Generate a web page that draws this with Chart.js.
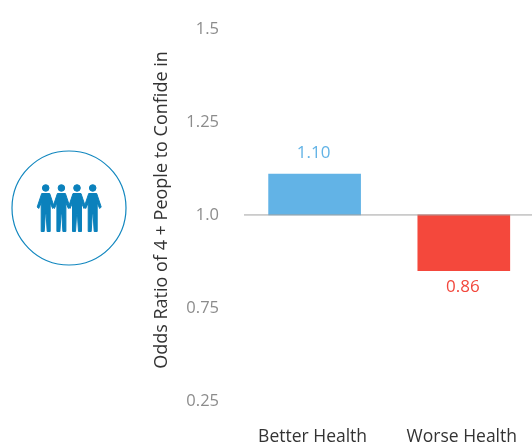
<!DOCTYPE html>
<html>
<head>
<meta charset="utf-8">
<script src="https://cdn.jsdelivr.net/npm/chart.js@4"></script>
<style>
html, body { margin: 0; padding: 0; background: #fff; overflow: hidden; }
#wrap { position: relative; width: 532px; height: 448px; overflow: hidden; }
#chart { position: absolute; left: 0; top: -2px; }
#icon { position: absolute; left: 0; top: 0; }
</style>
</head>
<body>
<div id="wrap">
<canvas id="chart" width="545" height="450"></canvas>
<svg id="icon" width="140" height="448" aria-hidden="true">
  <circle cx="69" cy="208" r="57" fill="none" stroke="#1287bf" stroke-width="1.2"/>
  <g fill="#0b81bc" stroke="#0b81bc" stroke-width="1" stroke-linejoin="round">
    <g id="p1" transform="translate(45.7 0)">
      <circle cx="0" cy="188" r="3.3"/>
      <path d="M-4,193.5 L4,193.5 L8.5,207 L7,208.5 L4.5,203 L4.5,212 L4.5,231.5 L1.5,231.5 L0.4,214 L-0.4,214 L-1.5,231.5 L-4.5,231.5 L-4.5,212 L-4.5,203 L-7,208.5 L-8.5,207 Z"/>
    </g>
    <use href="#p1" x="15.7"/>
    <use href="#p1" x="31.3"/>
    <use href="#p1" x="47"/>
  </g>
</svg>
</div>
<script>
// ===== Chart data =====
const categories = ['Better Health', 'Worse Health'];
const barValues = [1.11, 0.85];
const barLabels = ['1.10', '0.86'];
const barColors = ['#62b3e6', '#f4483c'];
const labelColors = ['#62b3e6', '#f2473c'];
// ticks are evenly spaced in the original, its lowest one is printed as 0.25
const tickValues = [0.5, 0.75, 1.0, 1.25, 1.5];
const tickLabels = ['0.25', '0.75', '1.0', '1.25', '1.5'];
const baseline = 1.0;
const yTitle = 'Odds Ratio of 4 + People to Confide in';

const fontFamily = "'Open Sans', sans-serif";

// baseline rule, value labels above/below the bars and the rotated axis title
const barExtras = {
    id: 'barExtras',
    afterDatasetsDraw(chart) {
        const ctx = chart.ctx;
        const y = chart.scales.y.getPixelForValue(baseline);
        ctx.save();
        ctx.strokeStyle = '#a3a3a3';
        ctx.lineWidth = 1;
        ctx.beginPath();
        ctx.moveTo(244, y);
        ctx.lineTo(chart.chartArea.right, y);
        ctx.stroke();

        ctx.font = '17px ' + fontFamily;
        ctx.textAlign = 'center';
        ctx.textBaseline = 'middle';
        chart.getDatasetMeta(0).data.forEach((bar, i) => {
            const up = barValues[i] >= baseline;
            ctx.fillStyle = labelColors[i];
            ctx.fillText(barLabels[i], bar.x - 1, bar.y + (up ? -21 : 16));
        });

        ctx.translate(162, 212);
        ctx.rotate(-Math.PI / 2);
        ctx.font = '18px ' + fontFamily;
        ctx.fillStyle = '#333333';
        ctx.fillText(yTitle, 0, 0);
        ctx.restore();
    }
};

new Chart(document.getElementById('chart'), {
    type: 'bar',
    data: {
        labels: categories,
        datasets: [{
            data: barValues,
            base: baseline,
            backgroundColor: barColors,
            borderWidth: 0,
            barThickness: 92
        }]
    },
    options: {
        responsive: false,
        animation: false,
        layout: { autoPadding: false, padding: { top: 28, right: 0, bottom: 0, left: 0 } },
        plugins: { legend: { display: false }, tooltip: { enabled: false } },
        scales: {
            y: {
                min: 0.5,
                max: 1.5,
                afterBuildTicks: (axis) => { axis.ticks = tickValues.map(v => ({ value: v })); },
                afterFit: (axis) => { axis.width = 240; },
                grid: { display: false, drawTicks: false },
                border: { display: false },
                ticks: {
                    color: '#8c8c8c',
                    padding: 21,
                    font: { family: fontFamily, size: 16.5 },
                    callback: (v) => tickLabels[tickValues.indexOf(v)]
                }
            },
            x: {
                afterFit: (axis) => { axis.height = 47; },
                grid: { display: false, drawTicks: false },
                border: { display: false },
                ticks: {
                    color: '#333333',
                    padding: 26,
                    labelOffset: -2,
                    maxRotation: 0,
                    font: { family: fontFamily, size: 17.5 }
                }
            }
        }
    },
    plugins: [barExtras]
});
</script>
</body>
</html>
